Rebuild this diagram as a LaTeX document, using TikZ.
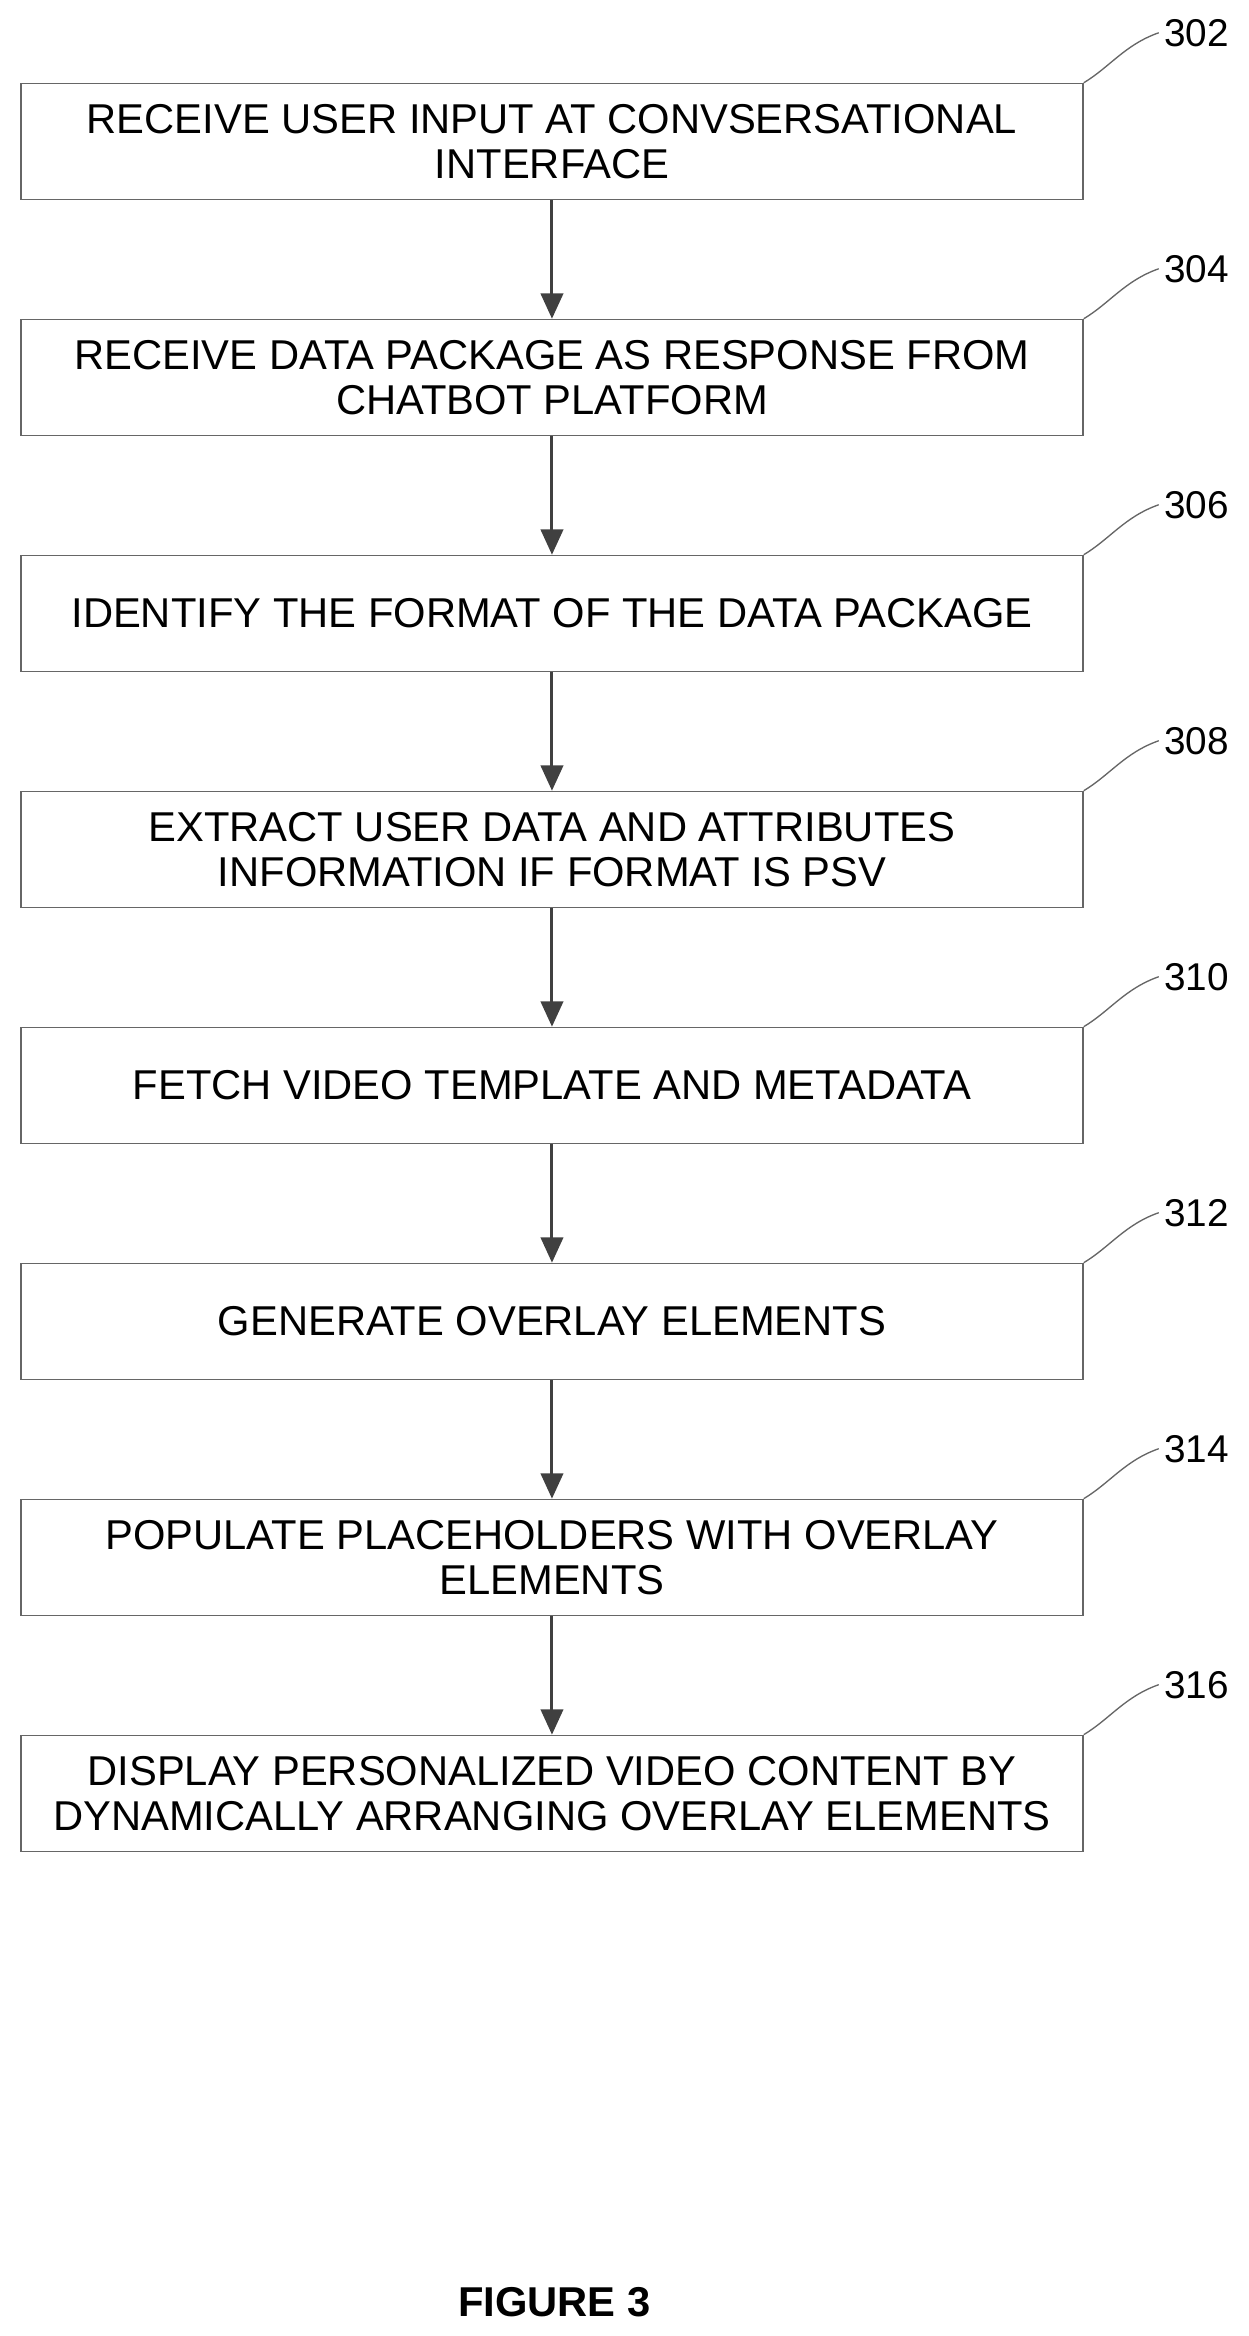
\documentclass[tikz,border=0pt]{standalone}
\usepackage{fontspec}
\setmainfont{Liberation Sans}
\usetikzlibrary{arrows.meta}
\begin{document}
\begin{tikzpicture}[x=1pt,y=-1pt,
  stepbox/.style={draw=black!60,line width=0.9pt,minimum width=713pt,minimum height=78pt,align=center,inner sep=0pt,font=\fontsize{28}{30}\selectfont},
  flow/.style={draw=black!75,line width=2pt,-{Triangle[length=17pt,width=15pt]}},
  lbl/.style={font=\fontsize{26}{30}\selectfont},
  lead/.style={draw=black!60,line width=0.9pt}]
\useasboundingbox (0,0) rectangle (838,1568);
\foreach \i/\n/\t in {0/302/{RECEIVE USER INPUT AT CONVSERSATIONAL\\INTERFACE},
  1/304/{RECEIVE DATA PACKAGE AS RESPONSE FROM\\CHATBOT PLATFORM},
  2/306/{IDENTIFY THE FORMAT OF THE DATA PACKAGE},
  3/308/{EXTRACT USER DATA AND ATTRIBUTES\\INFORMATION IF FORMAT IS PSV},
  4/310/{FETCH VIDEO TEMPLATE AND METADATA},
  5/312/{GENERATE OVERLAY ELEMENTS},
  6/314/{POPULATE PLACEHOLDERS WITH OVERLAY\\ELEMENTS},
  7/316/{DISPLAY PERSONALIZED VIDEO CONTENT BY\\DYNAMICALLY ARRANGING OVERLAY ELEMENTS}} {
  \node[stepbox] (b\i) at (370.5,{95+158.4*\i}) {\t};
  \node[lbl] (l\i) at (803,{22+158.4*\i}) {\n};
  \draw[lead] (b\i.north east) .. controls ({745},{45+158.4*\i}) and ({755},{30+158.4*\i}) .. (l\i.west);
}
\foreach \i [evaluate=\i as \j using int(\i+1)] in {0,...,6}
  \draw[flow] (b\i.south) -- (b\j.north);
\node[font=\bfseries\fontsize{28}{30}\selectfont] (fig) at (372,1545) {FIGURE 3};
\end{tikzpicture}
\end{document}
